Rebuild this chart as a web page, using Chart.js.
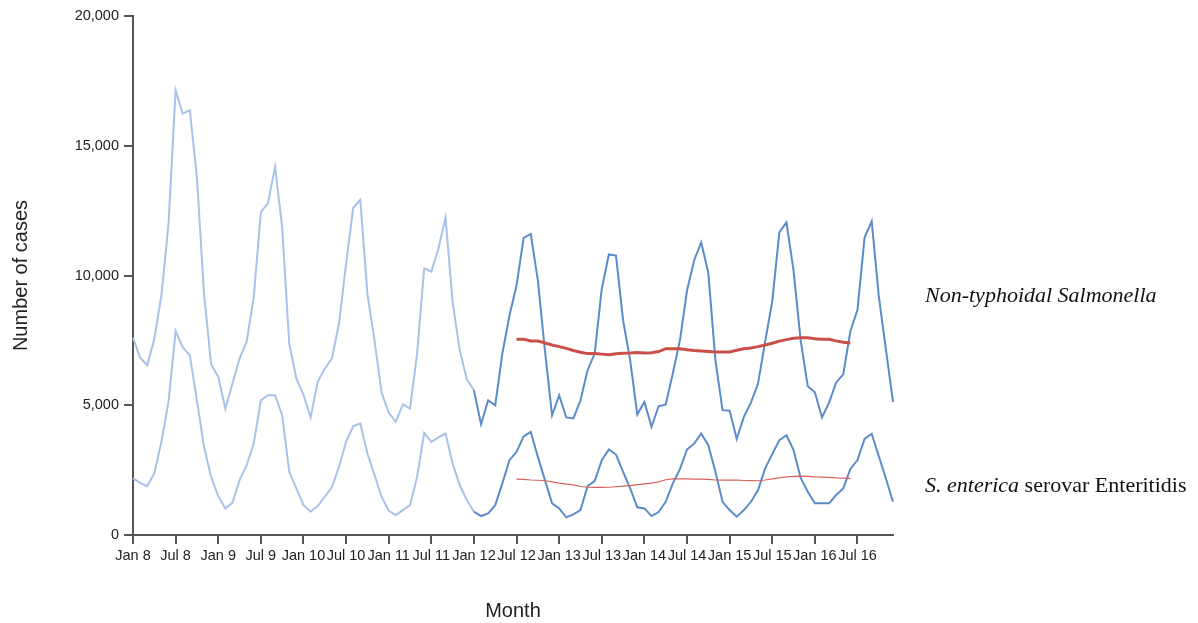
<!DOCTYPE html>
<html>
<head>
<meta charset="utf-8">
<script src="https://cdn.jsdelivr.net/npm/chart.js@4.4.1/dist/chart.umd.min.js"></script>
<style>
  html, body { margin: 0; padding: 0; background: #fff; }
  #wrap { position: relative; width: 1198px; height: 623px; }
  .note { position: absolute; font-family: "Liberation Serif", serif; font-size: 22px; line-height: 22px; color: #111; white-space: nowrap; }
</style>
</head>
<body>
<div id="wrap">
  <canvas id="myChart" width="1198" height="623"></canvas>
  <div class="note" style="left:925px; top:284px;"><i>Non-typhoidal Salmonella</i></div>
  <div class="note" style="left:925px; top:474px;"><i>S. enterica</i> serovar Enteritidis</div>
</div>
<script>
// months Jan 2008 .. Dec 2016
var monthNames = ["Jan", "Feb", "Mar", "Apr", "May", "Jun", "Jul", "Aug", "Sep", "Oct", "Nov", "Dec"];
var years = [8, 9, 10, 11, 12, 13, 14, 15, 16];
var months = [];
years.forEach(function(y) {
    monthNames.forEach(function(m) { months.push(m + " " + y); });
});

// monthly counts, non-typhoidal Salmonella
var nonTyphoidal = [
    7600, 6830, 6540, 7565, 9230, 11990, 17140, 16240, 16370, 13780, 9290, 6580,
    6090, 4870, 5830, 6800, 7440, 9170, 12440, 12780, 14190, 11860, 7370, 6030,
    5400, 4530, 5900, 6410, 6800, 8140, 10450, 12600, 12920, 9300, 7500, 5490,
    4720, 4360, 5040, 4870, 6990, 10280, 10150, 11030, 12240, 8970, 7115, 6000,
    5580, 4270, 5190, 5000, 6990, 8460, 9620, 11450, 11600, 9810, 7100, 4615,
    5385, 4530, 4490, 5190, 6350, 6990, 9490, 10810, 10770, 8270, 6730, 4640,
    5130, 4170, 4960, 5030, 6220, 7500, 9420, 10580, 11280, 10100, 6730, 4810,
    4790, 3700, 4550, 5100, 5835, 7450, 9000, 11665, 12050, 10190, 7500, 5730,
    5500, 4530, 5100, 5880, 6190, 7850, 8680, 11460, 12090, 9200, 7150, 5130
];

// monthly counts, S. enterica serovar Enteritidis
var enteritidis = [
    2180, 2010, 1885, 2370, 3590, 5130, 7860, 7240, 6920, 5190, 3400, 2240,
    1500, 1025, 1240, 2115, 2690, 3530, 5190, 5385, 5385, 4615, 2435, 1795,
    1150, 900, 1115, 1475, 1835, 2630, 3590, 4190, 4300, 3140, 2310, 1475,
    935, 770, 960, 1150, 2240, 3935, 3590, 3760, 3910, 2760, 1925, 1345,
    900, 730, 835, 1150, 1990, 2885, 3205, 3800, 3975, 3010, 2115, 1220,
    1025, 680, 795, 960, 1885, 2077, 2885, 3295, 3100, 2435, 1795, 1065,
    1025, 730, 885, 1280, 1990, 2540, 3295, 3525, 3910, 3460, 2435, 1280,
    960, 705, 960, 1280, 1730, 2565, 3115, 3655, 3845, 3270, 2200, 1665,
    1220, 1220, 1220, 1540, 1795, 2545, 2885, 3700, 3900, 3040, 2180, 1280
];

// 12-month moving averages, Jul 12 .. Jun 16
var maStart = 54;
var nonTyphoidalMA = [
    7540, 7540, 7480, 7480, 7400, 7320, 7260, 7190, 7110, 7040, 6990, 6990,
    6970, 6950, 6980, 7000, 7010, 7030, 7010, 7020, 7070, 7180, 7180, 7180,
    7140, 7110, 7090, 7070, 7050, 7050, 7050, 7120, 7180, 7210, 7260, 7320,
    7390, 7470, 7530, 7580, 7600, 7600, 7560, 7540, 7540, 7480, 7430, 7400
];
var enteritidisMA = [
    2150, 2140, 2120, 2110, 2090, 2050, 2000, 1960, 1930, 1870, 1840, 1835,
    1835, 1840, 1860, 1880, 1900, 1940, 1970, 2000, 2050, 2130, 2160, 2165,
    2160, 2150, 2150, 2140, 2120, 2115, 2115, 2115, 2100, 2095, 2090, 2120,
    2160, 2200, 2240, 2260, 2270, 2260, 2240, 2230, 2220, 2200, 2190, 2180
];

// older months drawn lighter, from Jan 12 on darker
var splitIndex = 48;
var yTicks = [0, 5000, 10000, 15000, 20000];

function before(arr) { return arr.map(function(v, i) { return i <= splitIndex ? v : null; }); }
function after(arr) { return arr.map(function(v, i) { return i >= splitIndex ? v : null; }); }
function padMA(arr) { return months.map(function(m, i) { var k = i - maStart; return (k >= 0 && k < arr.length) ? arr[k] : null; }); }

const lightBlue = "#a9c2ea";
const darkBlue = "#5b8cc9";
const red = "#c94f48";

const ctx = document.getElementById("myChart").getContext("2d");
const config = {
    type: "line",
    data: {
        labels: months,
        datasets: [
            { label: "Non-typhoidal MA", data: padMA(nonTyphoidalMA), borderColor: red, borderWidth: 3 },
            { label: "Enteritidis MA", data: padMA(enteritidisMA), borderColor: "#d9625b", borderWidth: 1.2 },
            { label: "Non-typhoidal", data: after(nonTyphoidal), borderColor: darkBlue, borderWidth: 2 },
            { label: "Enteritidis", data: after(enteritidis), borderColor: darkBlue, borderWidth: 2 },
            { label: "Non-typhoidal (earlier)", data: before(nonTyphoidal), borderColor: lightBlue, borderWidth: 2 },
            { label: "Enteritidis (earlier)", data: before(enteritidis), borderColor: lightBlue, borderWidth: 2 }
        ]
    },
    options: {
        responsive: false,
        animation: false,
        layout: { padding: { left: 0, right: 305, top: 16, bottom: 0 } },
        elements: { point: { radius: 0 }, line: { tension: 0 } },
        plugins: { legend: { display: false }, tooltip: { enabled: false } },
        scales: {
            x: {
                grid: { drawOnChartArea: false, drawTicks: true, tickLength: 9, color: "#555", lineWidth: 2 },
                border: { color: "#555", width: 2 },
                ticks: {
                    autoSkip: false, maxRotation: 0, padding: 3,
                    color: "#222", font: { family: "Liberation Sans", size: 14.5 },
                    callback: function(v, i) {
                        var l = months[i];
                        return (l.indexOf("Jan") === 0 || l.indexOf("Jul") === 0) ? l : null;
                    }
                },
                title: { display: true, text: "Month", color: "#222", font: { family: "Liberation Sans", size: 20 }, padding: { top: 0, bottom: 0 } },
                afterFit: function(scale) { scale.height = 88; }
            },
            y: {
                min: 0, max: 20000,
                grid: { drawOnChartArea: false, drawTicks: true, tickLength: 9, color: "#555", lineWidth: 2 },
                border: { color: "#555", width: 2 },
                afterBuildTicks: function(scale) { scale.ticks = yTicks.map(function(v) { return { value: v }; }); },
                ticks: {
                    padding: 5, color: "#222", font: { family: "Liberation Sans", size: 14.5 },
                    callback: function(v) { return v.toLocaleString("en-US"); }
                },
                title: { display: true, text: "Number of cases", color: "#222", font: { family: "Liberation Sans", size: 20 }, padding: { top: 9, bottom: 0 } },
                afterFit: function(scale) { scale.width = 133; }
            }
        }
    }
};

var displaychart = new Chart(ctx, config);
</script>
</body>
</html>
